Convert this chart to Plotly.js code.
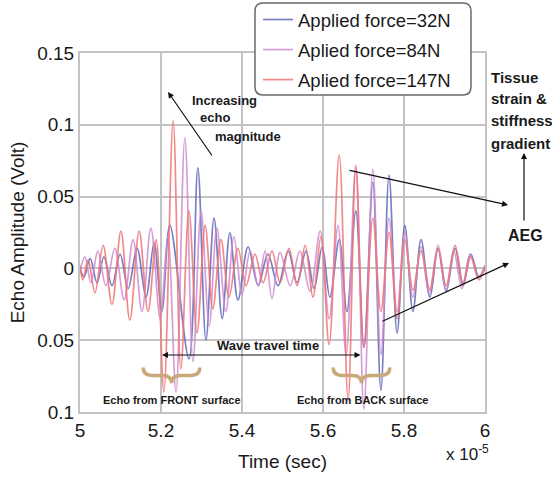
<!DOCTYPE html>
<html><head><meta charset="utf-8">
<script src="https://cdn.plot.ly/plotly-3.0.1.min.js"></script>
<style>html,body{margin:0;padding:0;background:#fff}#chart{width:552px;height:477px}</style>
</head><body><div id="chart"></div>
<script>
// time in units of 1e-5 s, amplitude in volts
const t32 = [5.000,5.010,5.025,5.042,5.059,5.079,5.099,5.119,5.141,5.163,5.183,5.202,5.222,5.269,5.291,5.311,5.331,5.351,5.370,5.390,5.415,5.440,5.464,5.489,5.514,5.536,5.558,5.578,5.598,5.617,5.640,5.659,5.681,5.701,5.723,5.743,5.763,5.783,5.802,5.822,5.842,5.864,5.884,5.904,5.926,5.946,5.965,5.985,6.000];
const v32 = [0.000,-0.006,0.007,-0.010,0.008,-0.012,0.010,-0.014,0.014,-0.020,0.018,-0.030,0.030,-0.063,0.070,-0.050,0.035,-0.035,0.025,-0.022,0.015,-0.012,0.010,-0.012,0.012,-0.010,0.012,-0.014,0.015,-0.020,0.020,-0.030,0.040,-0.055,0.060,-0.085,0.065,-0.045,0.030,-0.030,0.020,-0.020,0.014,-0.016,0.014,-0.012,0.010,-0.006,0.000];

const t84 = [5.000,5.012,5.027,5.044,5.064,5.086,5.109,5.131,5.153,5.175,5.198,5.217,5.237,5.259,5.279,5.299,5.319,5.338,5.360,5.380,5.400,5.420,5.440,5.457,5.474,5.494,5.519,5.543,5.568,5.593,5.615,5.637,5.657,5.681,5.701,5.723,5.743,5.763,5.783,5.802,5.822,5.842,5.862,5.884,5.904,5.923,5.943,5.963,5.983,6.000];
const v84 = [-0.002,0.008,-0.010,0.012,-0.012,0.014,-0.022,0.020,-0.030,0.028,-0.035,0.022,-0.086,0.091,-0.065,0.040,-0.040,0.028,-0.030,0.022,-0.018,0.012,-0.012,0.012,-0.021,0.011,-0.012,0.012,-0.016,0.026,-0.035,0.030,-0.060,0.072,-0.098,0.069,-0.060,0.035,-0.030,0.025,-0.020,0.015,-0.018,0.016,-0.015,0.012,-0.014,0.010,-0.006,0.002];

const t147 = [5.000,5.007,5.020,5.037,5.057,5.079,5.101,5.123,5.146,5.168,5.188,5.207,5.230,5.249,5.269,5.289,5.309,5.328,5.348,5.368,5.390,5.410,5.432,5.452,5.474,5.494,5.516,5.536,5.556,5.575,5.595,5.615,5.640,5.662,5.681,5.701,5.723,5.743,5.763,5.783,5.802,5.822,5.842,5.864,5.884,5.904,5.926,5.946,5.965,5.985,6.000];
const v147 = [0.002,-0.008,0.006,-0.017,0.016,-0.025,0.026,-0.036,0.026,-0.030,0.020,-0.086,0.103,-0.070,0.040,-0.045,0.030,-0.028,0.020,-0.020,0.014,-0.012,0.010,-0.010,0.012,-0.010,0.014,-0.012,0.016,-0.020,0.022,-0.053,0.079,-0.092,0.070,-0.055,0.035,-0.030,0.025,-0.035,0.020,-0.015,0.012,-0.015,0.014,-0.012,0.016,-0.010,0.008,-0.008,0.002];

const seriesNames = ['Applied force=32N','Aplied force=84N','Aplied force=147N'];
const xTickVals = [5,5.2,5.4,5.6,5.8,6];
const xTickText = ['5','5.2','5.4','5.6','5.8','6'];
const yTickVals = [-0.1,-0.05,0,0.05,0.1,0.15];
const yTickText = ['0.1','0.05','0','0.05','0.1','0.15'];

const colors = ['#6168b8','#cf8ccf','#f07474'];
const mk = (x,y,i) => ({x:x,y:y,type:'scatter',mode:'lines',name:seriesNames[i],legendgroup:'g'+i,
  line:{color:colors[i],width:1.7,shape:'spline',smoothing:1},opacity:0.85,hoverinfo:'skip'});
const data = [mk(t32,v32,0), mk(t84,v84,1), mk(t147,v147,2)];

function brace(x0,x1,yTop,yTip){
  const xc=(x0+x1)/2, yMid=(yTop+yTip)/2, d=0.022;
  return 'M '+x0+','+yTop+' Q '+x0+','+yMid+' '+(x0+d)+','+yMid+' L '+(xc-d)+','+yMid+
    ' Q '+xc+','+yMid+' '+xc+','+yTip+' Q '+xc+','+yMid+' '+(xc+d)+','+yMid+
    ' L '+(x1-d)+','+yMid+' Q '+x1+','+yMid+' '+x1+','+yTop;
}
function rrect(x0,y0,x1,y1,rx,ry){
  return 'M '+(x0+rx)+','+y1+' L '+(x1-rx)+','+y1+' Q '+x1+','+y1+' '+x1+','+(y1-ry)+
   ' L '+x1+','+(y0+ry)+' Q '+x1+','+y0+' '+(x1-rx)+','+y0+' L '+(x0+rx)+','+y0+
   ' Q '+x0+','+y0+' '+x0+','+(y0+ry)+' L '+x0+','+(y1-ry)+' Q '+x0+','+y1+' '+(x0+rx)+','+y1+' Z';
}

const sans = 'Liberation Sans, Arial, sans-serif';
const txt = (text,x,y,size,xa) => ({text:'<b>'+text+'</b>',x:x,y:y,xref:'paper',yref:'paper',
  showarrow:false,xanchor:xa||'center',yanchor:'middle',font:{family:sans,size:size,color:'#1a1a1a'}});
const arr = (x,y,ax,ay,side) => ({text:'',x:x,y:y,xref:'paper',yref:'paper',ax:ax,ay:ay,
  showarrow:true,arrowhead:2,arrowsize:1,arrowwidth:1.2,arrowcolor:'#111',standoff:0,startstandoff:0,
  arrowside:side||'end'});

const annotations = [
  txt('Increasing',0.2716,0.869,13,'left'),
  txt('echo',0.2914,0.819,13,'left'),
  txt('magnitude',0.3284,0.768,13,'left'),
  arr(0.2173,0.8914,45,65),
  txt('Tissue',1.0099,0.9331,15,'left'),
  txt('strain &amp;',1.0099,0.8719,15,'left'),
  txt('stiffness',1.0099,0.8106,15,'left'),
  txt('gradient',1.0099,0.7493,15,'left'),
  txt('AEG',1.1012,0.4903,16,'center'),
  arr(1.0963,0.7214,0,69),
  arr(1.0568,0.5766,-160,-35),
  arr(1.0593,0.415,-128,59),
  txt('Wave travel time',0.4642,0.1866,13,'center'),
  arr(0.2025,0.1588,200,0,'end+start'),
  txt('Echo from FRONT surface',0.2272,0.0334,11,'center'),
  txt('Echo from BACK surface',0.6963,0.0334,11,'center'),
  {text:'x 10<sup>-5</sup>',x:0.9556,y:-0.1142,xref:'paper',yref:'paper',showarrow:false,
   xanchor:'center',yanchor:'middle',font:{family:sans,size:17,color:'#1a1a1a'}}
];

const shapes = [
  {type:'path',xref:'paper',yref:'paper',layer:'above',path:rrect(0.4321,0.883,0.9654,1.1393,0.0198,0.0223),
   fillcolor:'#ffffff',line:{color:'#6a6a6a',width:1.5}},
  {type:'path',xref:'x',yref:'y',layer:'above',path:brace(5.156,5.296,-0.069,-0.080),
   line:{color:'#c9a97a',width:3.5}},
  {type:'path',xref:'x',yref:'y',layer:'above',path:brace(5.625,5.765,-0.069,-0.080),
   line:{color:'#c9a97a',width:3.5}}
];

const axisCommon = {showgrid:true,gridcolor:'#c3c3c3',gridwidth:1.8,zeroline:false,showline:true,
  linecolor:'#c3c3c3',linewidth:2,mirror:true,ticks:'',tickfont:{size:19,color:'#1a1a1a'},fixedrange:true};

const layout = {
  width:552,height:477,margin:{l:80,r:67,t:53,b:65,autoexpand:false},
  paper_bgcolor:'#ffffff',plot_bgcolor:'#ffffff',
  font:{family:sans,color:'#1a1a1a'},
  showlegend:true,
  legend:{x:0.4395,y:1.1449,xanchor:'left',yanchor:'top',bgcolor:'rgba(0,0,0,0)',borderwidth:0,
    font:{size:18.5,color:'#1a1a1a'},tracegroupgap:3,traceorder:'grouped'},
  xaxis:Object.assign({},axisCommon,{range:[5,6],tickvals:xTickVals,ticktext:xTickText,automargin:false,
    title:{text:'Time (sec)',font:{size:19,color:'#1a1a1a'},standoff:15}}),
  yaxis:Object.assign({},axisCommon,{range:[-0.1,0.15],tickvals:yTickVals,ticktext:yTickText,automargin:false,
    title:{text:'Echo Amplitude (Volt)',font:{size:19,color:'#1a1a1a'},standoff:8}}),
  shapes:shapes,
  annotations:annotations
};
Plotly.newPlot('chart',data,layout,{displayModeBar:false,staticPlot:true});
</script></body></html>
